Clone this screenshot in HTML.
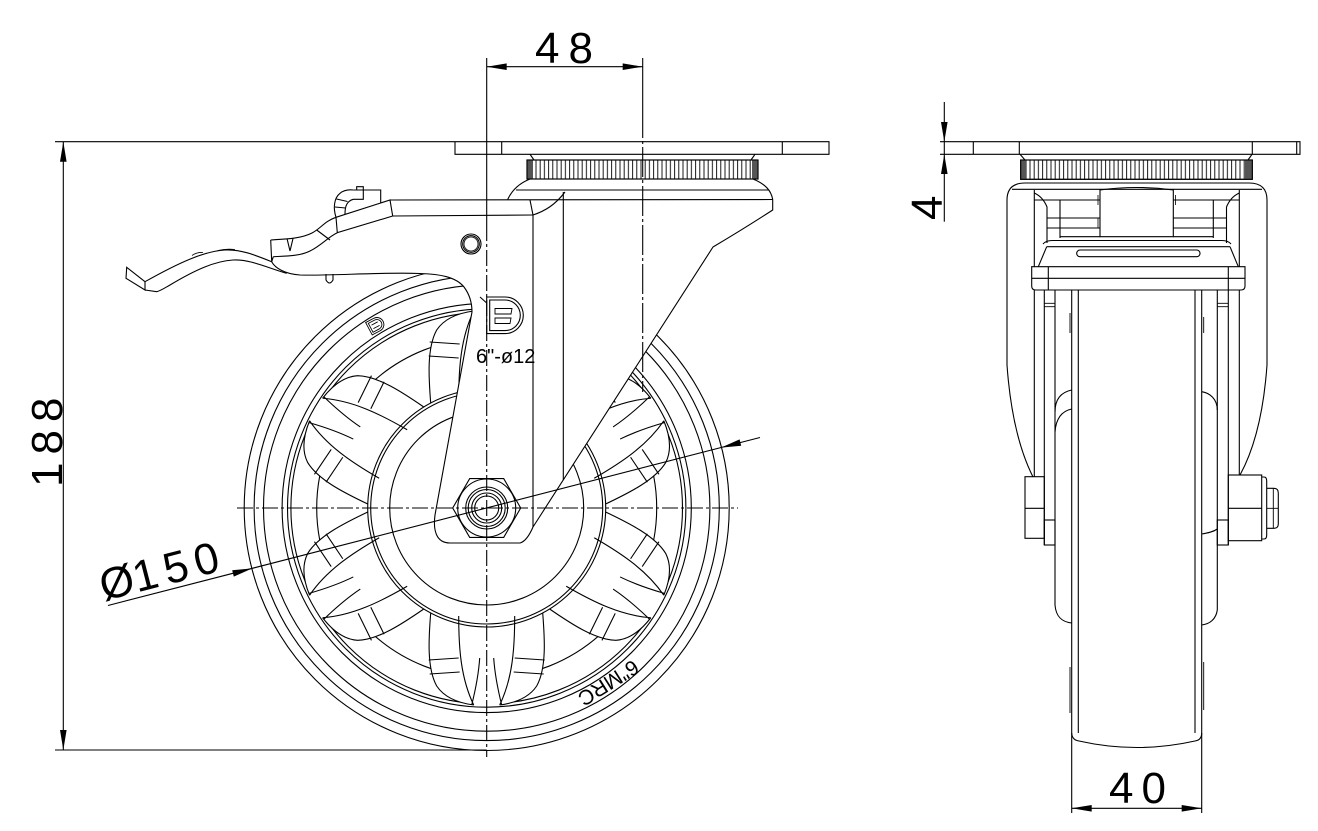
<!DOCTYPE html>
<html><head><meta charset="utf-8"><style>
html,body{margin:0;padding:0;background:#fff;}
svg{display:block;}
text{font-family:"Liberation Sans",sans-serif;fill:#000;}
</style></head><body>
<svg width="1318" height="831" viewBox="0 0 1318 831" xmlns="http://www.w3.org/2000/svg">
<defs>
<pattern id="kn" width="4.2" height="30" patternUnits="userSpaceOnUse" x="527" y="0"><line x1="0.6" y1="0" x2="0.6" y2="30" stroke="#000" stroke-width="0.9"/></pattern>
<pattern id="kn2" width="4.2" height="30" patternUnits="userSpaceOnUse" x="1021" y="0"><line x1="0.6" y1="0" x2="0.6" y2="30" stroke="#000" stroke-width="0.9"/></pattern>
<g id="lobe">
<path d="M105,-56 C130,-58 160,-60 178,-50 C190,-42 195,-28 197,-13 A197.5 197.5 0 0 1 197,13 C195,28 190,42 178,50 C160,60 130,58 105,56 A119 119 0 0 0 105,-56 Z" fill="#fff" stroke="none"/>
<path d="M105,-56 C130,-58 160,-60 178,-50 C190,-42 195,-28 197,-13 M197,13 C195,28 190,42 178,50 C160,60 130,58 105,56" fill="none"/>
<path d="M108,-28 C140,-28 170,-26 197,-13 M108,28 C140,28 170,26 197,13 M150,-7 C165,-8 185,-12 197,-15 M150,7 C165,8 185,12 197,15 M150,-28 L152,-58 M164,-27 L166,-57 M150,28 L152,58 M164,27 L166,57" fill="none"/>
</g>
</defs>
<rect width="1318" height="831" fill="#fff"/>

<g stroke="#000" stroke-width="1.1" fill="none">
<!-- ============ LEFT VIEW: WHEEL ============ -->
<g>
<circle cx="486.7" cy="508" r="242.5"/>
<circle cx="486.7" cy="508" r="232.6"/>
<circle cx="486.7" cy="508" r="223.2"/>
<circle cx="486.7" cy="508" r="204.6"/>
<circle cx="486.7" cy="508" r="199.2"/>
<circle cx="486.7" cy="508" r="195.8"/>
<circle cx="486.7" cy="508" r="170"/>
</g>
<g transform="translate(486.7,508)">
<use href="#lobe" transform="rotate(90)"/>
<use href="#lobe" transform="rotate(150)"/>
<use href="#lobe" transform="rotate(210)"/>
<use href="#lobe" transform="rotate(270)"/>
<use href="#lobe" transform="rotate(330)"/>
<use href="#lobe" transform="rotate(30)"/>
</g>
<circle cx="486.7" cy="508" r="119"/>
<circle cx="486.7" cy="508" r="116"/>
<circle cx="486.7" cy="508" r="97"/>

<!-- tire logo -->
<g transform="translate(376,325) rotate(-28)" stroke-width="0.9">
<path d="M-8,-7 L1,-7 A7 7 0 0 1 1,7 L-8,7 Z"/>
<path d="M-6,-5 L1,-5 A5 5 0 0 1 1,5 L-6,5 Z"/>
<path d="M-4,-2 L3,-2 M-4,2 L3,2"/>
</g>
<text x="0" y="0" font-size="21" transform="translate(633,659) rotate(147.8)" stroke="none">6"MRC</text>

<!-- fork white fill -->
<path d="M300,275 L420,273.5 C440,274 456,277 464,287 C470,295 472,303 472,312 L435,515 C433,530 436,543 450,543 L520,543 Q527,541 533,527 L713,247 L772.7,210 L772.7,199 L507.7,199.5 L392,200 L336,217 L300,250 Z" fill="#fff" stroke="none"/>

<!-- top plate -->
<path d="M55,141.7 L829,141.7 L829,154.3 L455,154.3 L455,141.7"/>
<line x1="501.7" y1="141.7" x2="501.7" y2="154.3"/>
<line x1="782.3" y1="141.7" x2="782.3" y2="154.3"/>
<path d="M530,154.3 L534,160 M755,154.3 L751,160"/>
<!-- knurl ring -->
<rect x="527" y="160" width="231" height="19" fill="url(#kn)"/>
<rect x="527" y="160" width="6" height="19" fill="#555" stroke="none"/>
<rect x="752" y="160" width="6" height="19" fill="#555" stroke="none"/>
<rect x="527" y="160" width="231" height="19"/>
<!-- housing -->
<path d="M507.7,199.5 C512,190 520,183 530,179"/>
<path d="M753,179 C765,184 771,190 772.7,199.5"/>
<line x1="516" y1="190" x2="769" y2="190"/>
<line x1="390" y1="200" x2="772.7" y2="199.5"/>
<!-- fork right edge -->
<path d="M772.7,199.5 L772.7,210 Q745,228 713,247 L533,527"/>
<line x1="533" y1="215" x2="533" y2="527"/>
<line x1="563.3" y1="192" x2="563.3" y2="480"/>
<!-- bar -->
<line x1="392.7" y1="216" x2="533" y2="215"/>
<path d="M530,200 L533,215"/>
<path d="M533,215 C545,211 555,205 565,192"/>
<!-- lever -->
<path d="M336,217.3 L390,200 L392.7,216 L337.3,232.7 Z"/>
<path d="M336,217.3 C333,208 334,198 340,193.3 C344,190 349,189.5 353.3,190"/>
<path d="M345,214 C345,206 347,201 353.3,199.3 L363.3,199.3 L363.3,190 M353.3,190 L380.7,190 L380.7,203"/>
<path d="M356.7,190 L356.7,186.7 L363.3,186.7 L363.3,190"/>
<path d="M335,207 L345.5,208 M336.5,199 L347.5,201.5"/>
<path d="M336,217.3 C325,221 320,229 312,233 C300,239 285,239 270.7,240"/>
<path d="M337.3,232.7 C328,237 322,245 310,251 C300,256 288,256 273.3,256.7"/>
<path d="M270.7,240 L271.7,261.7 M273.3,256.7 L271.7,261.7"/>
<path d="M316.7,230 L330,240 M287,238.5 L290,251 L293,238.5"/>
<path d="M271.7,261.7 C255,255 240,249 225,250 C205,251 180,262 145,281.7"/>
<path d="M286.7,273.3 C268,268 250,259 233,260 C215,261 195,270 170,285 C163,289 160,291 156.7,291.7 L145,290"/>
<path d="M145,281.7 L126.7,267.3 L126,278.3 L145,290 Z"/>
<path d="M192,255.5 Q197,252 203,252.5 M218,250.5 Q226,248.5 235,249.5" stroke-width="0.8"/>
<path d="M271.7,261.7 C275,268 285,274 300,275 C330,276 380,272 420,273.5"/>
<path d="M326,274 L326,280 Q329.5,286 333,280 L333,274"/>
<!-- fork left -->
<path d="M420,273.5 C440,274 456,277 464,287 C470,295 472,303 472,312 L435,515 C433,530 436,543 450,543 L520,543 Q527,541 533,527"/>
<!-- rivet -->
<circle cx="471" cy="244" r="10"/>
<circle cx="471" cy="244" r="8.3"/>
<circle cx="471" cy="244" r="7" stroke-width="0.8"/>
<!-- D logo -->
<path d="M486.7,297 L505,297 A18.3 18.3 0 0 1 505,333.6 L486.7,333.6 Z"/>
<path d="M489.7,300 L505,300 A15.3 15.3 0 0 1 505,330.6 L489.7,330.6 Z"/>
<path d="M495,308.5 L512,308.5 L511,314 L495,314 Z M495,318 L511,318 L510,323.5 L495,323.5 Z" stroke-width="0.9"/>
<path d="M480,297 L486.7,303"/>
<text x="476" y="363" font-size="20" stroke="none">6"-ø12</text>
<!-- nut -->
<path d="M452.7,508 L469.7,478.6 L503.7,478.6 L520.7,508 L503.7,537.4 L469.7,537.4 Z" fill="#fff"/>
<circle cx="486.7" cy="508" r="29"/>
<circle cx="486.7" cy="508" r="21"/>
<circle cx="486.7" cy="508" r="18.5"/>
<circle cx="486.7" cy="508" r="15"/>
<circle cx="486.7" cy="508" r="12"/>

<!-- centerlines -->
<line x1="486.7" y1="58" x2="486.7" y2="225"/>
<line x1="486.7" y1="225" x2="486.7" y2="757" stroke-dasharray="16 3 3 3"/>
<line x1="642.7" y1="58" x2="642.7" y2="108"/>
<line x1="642.7" y1="108" x2="642.7" y2="392" stroke-dasharray="30 3 3 3"/>
<line x1="237" y1="508" x2="738" y2="508" stroke-dasharray="16 3 3 3"/>

<!-- dims left view -->
<line x1="486.7" y1="66.7" x2="642.7" y2="66.7"/>
<line x1="63.3" y1="141.7" x2="63.3" y2="750"/>
<line x1="55" y1="750" x2="486.7" y2="750"/>
<line x1="108" y1="605.5" x2="760" y2="437.5"/>

<!-- ============ RIGHT VIEW ============ -->
<path d="M940,141.7 L1300,141.7 L1300,154.3 L973.3,154.3 L973.3,141.7 M940,154.3 L973.3,154.3"/>
<line x1="1019.3" y1="141.7" x2="1019.3" y2="154.3"/>
<line x1="1252.3" y1="141.7" x2="1252.3" y2="154.3"/>
<line x1="1296.7" y1="141.7" x2="1296.7" y2="154.3"/>
<path d="M1020,154.3 L1025,160 M1252,154.3 L1248,160"/>
<rect x="1020.7" y="160" width="231.6" height="19.3" fill="url(#kn2)"/>
<rect x="1020.7" y="160" width="6" height="19.3" fill="#555" stroke="none"/>
<rect x="1245" y="160" width="7.3" height="19.3" fill="#555" stroke="none"/>
<rect x="1020.7" y="160" width="231.6" height="19.3"/>
<path d="M1007,200 C1007,189 1013,183 1025,183 L1249,183 C1261,183 1267,189 1267,200"/>
<line x1="1012" y1="189.3" x2="1262" y2="189.3"/>
<path d="M1007,200 L1007,365 Q1012,435 1033,477"/>
<path d="M1267,200 L1267,365 Q1262,435 1240,475"/>
<line x1="1034.3" y1="190" x2="1034.3" y2="266.7"/>
<line x1="1239.3" y1="190" x2="1239.3" y2="266.7"/>
<path d="M1100,236.7 L1100,190 Q1136.7,185 1173.3,190 L1173.3,236.7 Z"/>
<path d="M1098,195 L1098,205 M1098,218 L1098,228 M1175.5,195 L1175.5,205" stroke-width="0.8"/>
<path d="M1034.3,200 L1100,200 M1173.3,200 L1239.3,200"/>
<path d="M1047,243 L1047,207 Q1043,197 1034.3,193 M1060,200 L1060,238 M1047,218 L1100,218 M1047,228 L1100,228 M1060,236.7 L1100,236.7"/>
<path d="M1226.5,243 L1226.5,207 Q1230.5,197 1239.3,193 M1213.3,200 L1213.3,238 M1173.3,218 L1226.5,218 M1173.3,228 L1226.5,228 M1173.3,236.7 L1213.3,236.7"/>
<path d="M1043,244 Q1046,240.5 1052,240.5 L1222,240.5 Q1228,240.5 1231,244"/>
<line x1="1046.7" y1="246.7" x2="1230" y2="246.7"/>
<rect x="1076.7" y="250" width="123.3" height="6.7" rx="3.3"/>
<path d="M1046.7,246.7 L1038.3,266.7 M1230,246.7 L1238.3,266.7"/>
<path d="M1031.7,266.7 L1245,266.7 L1245,286 Q1245,290 1241,290 L1035.7,290 Q1031.7,290 1031.7,286 Z"/>
<line x1="1031.7" y1="278.3" x2="1245" y2="278.3"/>
<path d="M1048.3,266.7 L1048.3,290 M1228.3,266.7 L1228.3,290"/>
<!-- legs -->
<line x1="1034.3" y1="290" x2="1034.3" y2="476.7"/>
<line x1="1044.3" y1="290" x2="1044.3" y2="545"/>
<line x1="1055" y1="290" x2="1055" y2="605"/>
<path d="M1044.3,303.3 L1055,303.3 M1044.3,306.7 L1055,306.7 M1217.3,303.3 L1228.3,303.3 M1217.3,306.7 L1228.3,306.7" stroke-width="0.9"/>
<line x1="1071.7" y1="290" x2="1071.7" y2="813"/>
<line x1="1078.3" y1="290" x2="1078.3" y2="733"/>
<line x1="1195" y1="290" x2="1195" y2="733"/>
<line x1="1201.7" y1="290" x2="1201.7" y2="813"/>
<line x1="1217.3" y1="290" x2="1217.3" y2="610"/>
<line x1="1228.3" y1="290" x2="1228.3" y2="545"/>
<line x1="1239.3" y1="290" x2="1239.3" y2="475"/>
<!-- hub flanges -->
<path d="M1055,412 C1055,398 1062,392 1071.7,390 M1055,432 C1056,418 1062,411 1071.7,409"/>
<path d="M1055,605 C1056,617 1062,622 1071.7,623"/>
<path d="M1201.7,391.7 C1210,393 1217.3,399 1217.3,410 M1217.3,610 C1216,619 1210,624 1201.7,625 M1201.7,534 C1208,533 1213,532 1217.3,529"/>
<!-- tire bottom -->
<path d="M1071.7,733 Q1072,740 1079,741 Q1136.7,754 1195,741 Q1201.7,740 1201.7,733"/>
<path d="M1070,313 L1070,333 M1070,667 L1070,713 M1203.7,317 L1203.7,333 M1203.7,662 L1203.7,710" stroke-width="0.9"/>
<!-- nuts -->
<rect x="1025" y="476.7" width="19.3" height="61.6"/>
<line x1="1025" y1="508.3" x2="1044.3" y2="508.3"/>
<rect x="1044.3" y="520" width="10.7" height="25"/>
<rect x="1217.3" y="520" width="11" height="25"/>
<rect x="1228.3" y="475" width="33.4" height="65.7"/>
<line x1="1228.3" y1="508.3" x2="1261.7" y2="508.3"/>
<path d="M1261.7,477 L1264,477 Q1266.7,477 1266.7,481 L1266.7,535 Q1266.7,539 1264,539 L1261.7,539"/>
<path d="M1266.7,488.3 L1274,488.3 Q1278.3,488.3 1278.3,493 L1278.3,524 Q1278.3,528.3 1274,528.3 L1266.7,528.3"/>
<path d="M1266.7,508.3 L1278.3,508.3 M1273.3,488.3 L1273.3,528.3" stroke-width="0.9"/>
<!-- right dims -->
<line x1="944.3" y1="102" x2="944.3" y2="221.7"/>
<line x1="1071.7" y1="808.3" x2="1201.7" y2="808.3"/>
</g>

<!-- arrowheads -->
<g fill="#000" stroke="none">
<path d="M486.7,66.7 L506.7,63.4 L506.7,70 Z"/>
<path d="M642.7,66.7 L622.7,63.4 L622.7,70 Z"/>
<path d="M63.3,141.7 L60,161.7 L66.6,161.7 Z"/>
<path d="M63.3,750 L60,730 L66.6,730 Z"/>
<path d="M252.35,568.4 L233.8,576.6 L232.2,570.2 Z"/>
<path d="M721,447.6 L741.2,445.8 L739.6,439.4 Z"/>
<path d="M944.3,141.7 L941,122 L947.6,122 Z"/>
<path d="M944.3,154.3 L941,174 L947.6,174 Z"/>
<path d="M1071.7,808.3 L1091.7,805 L1091.7,811.6 Z"/>
<path d="M1201.7,808.3 L1181.7,805 L1181.7,811.6 Z"/>
</g>

<!-- dimension text -->
<text x="535" y="63" font-size="44" letter-spacing="9">48</text>
<text x="0" y="0" font-size="44" letter-spacing="8" transform="translate(62,487) rotate(-90)">188</text>
<text x="0" y="0" font-size="44" transform="translate(942,220) rotate(-90)">4</text>
<text x="1109" y="803" font-size="44" letter-spacing="8">40</text>
<text x="0" y="0" font-size="44" transform="translate(104,601) rotate(-14.45)"><tspan>Ø</tspan><tspan letter-spacing="7">150</tspan></text>
</svg>
</body></html>
